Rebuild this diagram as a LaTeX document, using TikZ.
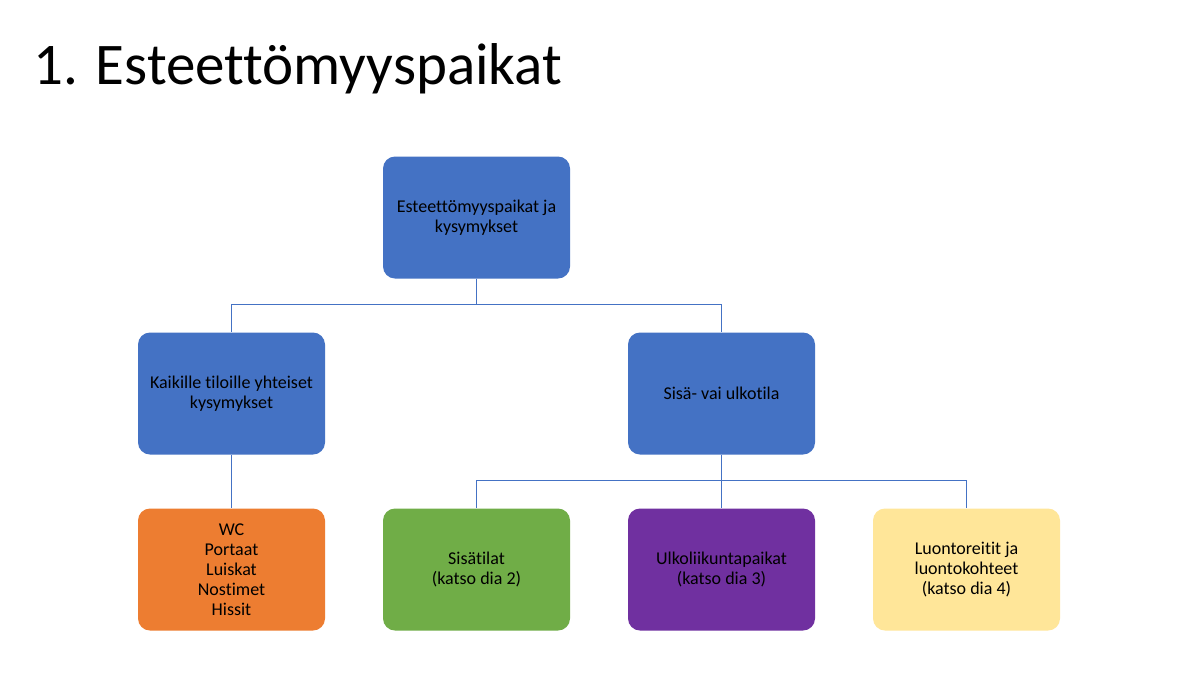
\documentclass[tikz,border=0pt]{standalone}
\usepackage{fontspec}
\setmainfont[RawFeature={-liga;-clig;-calt;-dlig}]{Carlito}
\definecolor{cblue}{HTML}{4472C4}
\definecolor{corange}{HTML}{ED7D31}
\definecolor{cgreen}{HTML}{70AD47}
\definecolor{cpurple}{HTML}{7030A0}
\definecolor{cyellow}{HTML}{FFE699}
\definecolor{cline}{HTML}{4472C4}
\tikzset{
  box/.style={rounded corners=12pt, minimum width=187pt, minimum height=122pt,
    inner sep=0pt, align=center, text=black, font=\fontsize{18}{20}\selectfont},
  conn/.style={draw=cline, line width=1.3pt}
}
\begin{document}
\begin{tikzpicture}[x=1pt,y=-1pt]
\useasboundingbox (0,0) rectangle (1180,675);
\fill[white] (0,0) rectangle (1180,675);
\node[anchor=base west, inner sep=0pt, font=\fontsize{59}{61}\selectfont] (title) at (33,84) {1. Esteettömyyspaikat};
\node[box, fill=cblue] (top) at (476.5,217.5) {Esteettömyyspaikat ja\\kysymykset};
\node[box, fill=cblue] (left) at (231.5,393.5) {Kaikille tiloille yhteiset\\kysymykset};
\node[box, fill=cblue] (right) at (721.5,393.5) {Sisä- vai ulkotila};
\node[box, fill=corange] (wc) at (231.5,569.5) {WC\\Portaat\\Luiskat\\Nostimet\\Hissit};
\node[box, fill=cgreen] (sisa) at (476.5,569.5) {Sisätilat\\(katso dia 2)};
\node[box, fill=cpurple] (ulko) at (721.5,569.5) {Ulkoliikuntapaikat\\(katso dia 3)};
\node[box, fill=cyellow] (luonto) at (966.5,569.5) {Luontoreitit ja\\luontokohteet\\(katso dia 4)};
\draw[conn] (top.south) -- ++(0,26) -| (left.north);
\draw[conn] (top.south) -- ++(0,26) -| (right.north);
\draw[conn] (left.south) -- (wc.north);
\draw[conn] (right.south) -- ++(0,26) -| (sisa.north);
\draw[conn] (right.south) -- (ulko.north);
\draw[conn] (right.south) -- ++(0,26) -| (luonto.north);
\end{tikzpicture}
\end{document}
